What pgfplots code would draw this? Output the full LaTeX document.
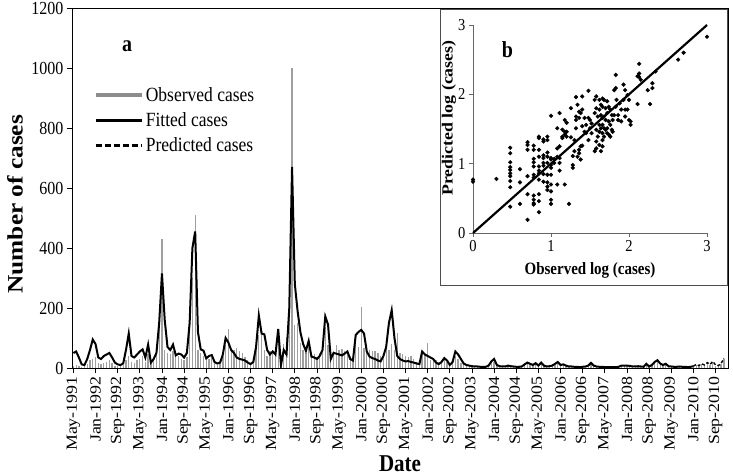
\documentclass[border=0pt]{standalone}
\usepackage{pgfplots}
\pgfplotsset{compat=1.18}
\usepackage{pgfplotstable}
\usepackage{graphicx}
\usepackage{fontspec}
\setmainfont{Liberation Serif}
\newcommand\vs[1]{\scalebox{1.15}[1]{#1}}% stretched along text direction (for rotated text)
\newcommand\hs[1]{\scalebox{1}[1.15]{#1}}% stretched vertically (for horizontal text)

\pgfplotstableread{
t obs fit
0 8 50
1 10 55
2 5 35
3 3 12
4 5 10
5 12 30
6 25 60
7 30 95
8 35 80
9 15 35
10 12 30
11 15 40
12 20 45
13 25 50
14 15 35
15 8 18
16 5 12
17 5 10
18 10 15
19 25 60
20 40 115
21 20 40
22 15 35
23 25 45
24 30 55
25 40 62
26 20 35
27 45 78
28 15 18
29 30 30
30 60 50
31 175 150
32 430 315
33 60 160
34 50 70
35 45 60
36 55 78
37 35 42
38 40 48
39 30 45
40 25 35
41 35 50
42 150 150
43 300 400
44 510 455
45 60 120
46 50 62
47 40 58
48 25 32
49 30 40
50 35 43
51 15 20
52 10 15
53 15 18
54 40 45
55 75 100
56 130 85
57 55 60
58 60 50
59 65 35
60 55 30
61 50 28
62 35 25
63 25 18
64 15 13
65 20 20
66 65 70
67 110 175
68 117 115
69 60 112
70 40 60
71 55 45
72 50 55
73 40 45
74 90 130
75 15 10
76 80 60
77 103 45
78 300 200
79 1000 670
80 143 280
81 150 190
82 83 120
83 60 80
84 50 57
85 70 90
86 40 38
87 45 35
88 35 30
89 50 40
90 60 60
91 137 172
92 77 145
93 40 30
94 55 50
95 77 48
96 60 45
97 62 42
98 55 48
99 45 55
100 40 30
101 35 25
102 80 110
103 70 120
104 203 127
105 65 115
106 55 55
107 60 38
108 58 33
109 55 30
110 50 25
111 40 22
112 45 40
113 70 70
114 60 150
115 80 193
116 60 100
117 117 40
118 50 30
119 45 25
120 40 22
121 35 23
122 40 20
123 30 18
124 20 15
125 25 13
126 45 55
127 45 45
128 83 40
129 25 35
130 30 30
131 25 18
132 20 13
133 25 20
134 35 33
135 20 25
136 15 10
137 25 20
138 40 55
139 30 45
140 15 30
141 12 15
142 10 10
143 8 8
144 5 6
145 5 5
146 4 5
147 3 4
148 3 4
149 3 4
150 10 8
151 25 22
152 20 30
153 8 10
154 4 6
155 3 5
156 2 5
157 5 8
158 3 6
159 2 5
160 2 4
161 3 4
162 4 5
163 10 12
164 15 18
165 12 14
166 8 10
167 14 16
168 6 8
169 15 18
170 6 8
171 3 5
172 4 6
173 6 8
174 10 14
175 18 20
176 8 10
177 10 12
178 5 8
179 3 5
180 3 5
181 2 4
182 2 4
183 2 3
184 3 4
185 4 5
186 6 8
187 15 17
188 5 8
189 3 5
190 2 4
191 2 4
192 2 3
193 1 3
194 2 3
195 2 3
196 2 3
197 3 4
198 6 8
199 5 8
200 6 8
201 4 7
202 3 5
203 3 5
204 4 6
205 3 5
206 2 4
207 12 14
208 3 5
209 8 10
210 18 20
211 22 26
212 12 15
213 8 10
214 12 14
215 4 6
216 3 5
217 2 4
218 2 4
219 3 5
220 2 4
221 2 4
222 2 3
223 3 4
224 5 6
225 10 nan
226 6 nan
227 12 nan
228 8 nan
229 15 nan
230 10 nan
231 20 nan
232 8 nan
233 6 nan
234 12 nan
235 30 nan
}\maindata

\pgfplotstableread{
t pred
224 6
225 12
226 8
227 14
228 10
229 18
230 12
231 22
232 10
233 8
234 15
235 32
}\preddata

\pgfplotstableread{
x y
0 0.77
0 0.74
0.30 0.78
0.477 1.23
0.477 1.15
0.477 1.02
0.477 0.95
0.477 0.91
0.477 0.86
0.477 0.82
0.477 0.75
0.477 0.66
0.477 0.38
0.602 0.92
0.602 0.73
0.602 0.42
0.699 1.31
0.699 1.27
0.699 1.20
0.699 0.82
0.699 0.56
0.699 0.19
0.778 1.26
0.778 1.20
0.778 1.07
0.778 1.02
0.778 0.96
0.778 0.84
0.778 0.80
0.778 0.54
0.778 0.48
0.778 0.43
0.778 0.41
0.845 1.39
0.845 1.37
0.845 1.20
0.845 1.10
0.845 0.96
0.845 0.90
0.845 0.86
0.845 0.77
0.845 0.56
0.845 0.46
0.845 0.30
0.903 1.35
0.903 1.32
0.903 1.12
0.903 1.08
0.903 1.01
0.903 0.97
0.903 0.85
0.903 0.74
0.954 1.39
0.954 1.34
0.954 1.16
0.954 1.10
0.954 1.01
0.954 0.84
0.954 0.73
0.954 0.67
0.954 0.62
1.0 1.69
1.0 1.08
1.0 1.06
1.0 0.98
1.0 0.94
1.0 0.84
1.0 0.70
1.0 0.60
1.0 0.48
1.0 0.42
1.04 1.07
1.04 1.01
1.08 1.51
1.08 1.22
1.08 1.10
1.08 0.70
1.11 1.73
1.11 1.25
1.11 1.08
1.11 1.01
1.11 0.90
1.146 1.49
1.146 1.39
1.146 1.37
1.176 1.63
1.176 1.46
1.176 1.42
1.176 0.70
1.20 1.59
1.20 1.46
1.20 1.39
1.23 0.42
1.255 1.80
1.255 1.38
1.28 1.11
1.28 0.98
1.28 0.94
1.30 1.34
1.30 1.18
1.32 1.96
1.32 1.68
1.32 1.63
1.32 1.51
1.34 1.85
1.34 1.10
1.36 1.75
1.36 1.66
1.36 1.20
1.36 1.15
1.38 1.73
1.38 1.25
1.38 1.06
1.40 1.97
1.40 1.78
1.40 1.54
1.40 1.26
1.43 1.66
1.43 1.46
1.45 1.56
1.45 1.44
1.48 2.05
1.48 1.66
1.48 1.34
1.50 1.63
1.50 1.51
1.52 1.58
1.52 1.44
1.56 1.92
1.56 1.73
1.56 1.18
1.58 1.97
1.58 1.80
1.58 1.49
1.58 1.32
1.58 1.22
1.60 1.68
1.60 1.39
1.62 1.92
1.62 1.78
1.62 1.56
1.62 1.46
1.62 1.27
1.64 1.85
1.64 1.70
1.64 1.51
1.64 1.18
1.66 1.94
1.66 1.82
1.66 1.66
1.66 1.56
1.66 1.44
1.66 1.34
1.66 1.25
1.68 1.92
1.68 1.68
1.68 1.51
1.68 1.39
1.70 1.80
1.70 1.63
1.70 1.49
1.72 1.90
1.72 1.73
1.72 1.51
1.72 1.44
1.74 1.82
1.74 1.61
1.74 1.42
1.76 1.78
1.76 1.56
1.76 1.39
1.78 1.70
1.78 1.49
1.79 1.63
1.79 1.46
1.81 2.06
1.81 1.70
1.83 2.28
1.83 2.09
1.83 1.82
1.84 1.92
1.86 1.70
1.86 1.63
1.88 1.87
1.90 1.78
1.90 1.61
1.93 2.14
1.93 1.92
1.95 2.06
1.95 1.78
1.95 1.68
1.98 1.99
1.98 1.78
2.00 1.92
2.00 1.63
2.02 1.61
2.02 1.56
2.11 2.26
2.11 1.86
2.13 2.44
2.13 2.30
2.13 2.25
2.15 2.21
2.24 2.06
2.27 1.86
2.30 2.16
2.30 2.09
2.34 2.33
2.63 2.50
2.70 2.60
3.0 2.83
}\scatterdata

\begin{document}
\begin{tikzpicture}
\path[use as bounding box] (0pt,0pt) rectangle (733pt,476pt);
\begin{axis}[
  at={(72pt,108pt)}, anchor=south west,
  scale only axis, width=656pt, height=360pt,
  xmin=-0.5, xmax=236.5, ymin=0, ymax=1200,
  ytick={0,200,...,1200},
  xtick={0,8,...,232},
  xticklabels={\vs{May-1991},\vs{Jan-1992},\vs{Sep-1992},\vs{May-1993},\vs{Jan-1994},\vs{Sep-1994},\vs{May-1995},\vs{Jan-1996},\vs{Sep-1996},\vs{May-1997},\vs{Jan-1998},\vs{Sep-1998},\vs{May-1999},\vs{Jan-2000},\vs{Sep-2000},\vs{May-2001},\vs{Jan-2002},\vs{Sep-2002},\vs{May-2003},\vs{Jan-2004},\vs{Sep-2004},\vs{May-2005},\vs{Jan-2006},\vs{Sep-2006},\vs{May-2007},\vs{Jan-2008},\vs{Sep-2008},\vs{May-2009},\vs{Jan-2010},\vs{Sep-2010}},
  xticklabel style={rotate=90, anchor=east, font=\fontsize{15.5}{17}\selectfont},
  yticklabel={\hs{\pgfmathprintnumber{\tick}}},
  yticklabel style={font=\fontsize{16}{18}\selectfont},
  /pgf/number format/assume math mode=true,
  /pgf/number format/set thousands separator={},
  tick align=outside, major tick length=5pt,
  xtick pos=left, ytick pos=left,
  axis line style={black, line width=0.8pt},
  tick style={black, line width=0.8pt},
  xlabel={\hs{Date}},
  ylabel={\vs{Number of cases}},
  xlabel style={at={(axis description cs:0.5,-0.265)}, anchor=center, font=\bfseries\fontsize{21}{24}\selectfont},
  ylabel style={at={(axis description cs:-0.087,0.455)}, anchor=center, rotate=0, font=\bfseries\fontsize{22}{26}\selectfont},
  legend style={draw=none, fill=none, at={(axis description cs:0.033,0.785)}, anchor=north west, font=\fontsize{17.5}{21}\selectfont, row sep=5.5pt, inner sep=0pt},
  legend cell align=left,
]
\addlegendimage{legend image code/.code={\draw[gray!90, line width=4pt] (0pt,0pt)--(46pt,0pt);}}
\addlegendentry{\hs{Observed cases}}
\addlegendimage{legend image code/.code={\draw[black, line width=3pt] (0pt,0pt)--(46pt,0pt);}}
\addlegendentry{\hs{Fitted cases}}
\addlegendimage{legend image code/.code={\draw[black, line width=3pt, dash pattern=on 6pt off 3pt] (0pt,0pt)--(46pt,0pt);}}
\addlegendentry{\hs{Predicted cases}}
\addplot[ycomb, color=gray!75, line width=1.3pt, forget plot] table[x=t, y=obs] {\maindata};
\addplot[black, line width=2pt, forget plot] table[x=t, y=fit] {\maindata};
\addplot[black, line width=1.4pt, dash pattern=on 3pt off 2pt, forget plot] table[x=t, y=pred] {\preddata};
\node[font=\bfseries\fontsize{20}{24}\selectfont] at (axis description cs:0.084,0.894) {\hs{a}};
\end{axis}
\draw[black!70, line width=0.7pt, fill=white] (440pt,467pt) rectangle (727pt,191pt);
\begin{axis}[
  at={(473pt,243pt)}, anchor=south west,
  scale only axis, width=234pt, height=208pt,
  xmin=0, xmax=3, ymin=0, ymax=3,
  xtick={0,1,2,3}, ytick={0,1,2,3},
  axis x line=bottom, axis y line=left,
  axis line style={-, black!60, line width=0.8pt},
  tick align=outside, major tick length=4pt,
  tick style={black!60, line width=0.8pt},
  xticklabel={\hs{\pgfmathprintnumber{\tick}}},
  yticklabel={\hs{\pgfmathprintnumber{\tick}}},
  ticklabel style={font=\fontsize{14.5}{16}\selectfont},
  /pgf/number format/assume math mode=true,
  xlabel={\hs{Observed log (cases)}},
  ylabel={\vs{Predicted log (cases)}},
  xlabel style={at={(axis description cs:0.5,-0.178)}, anchor=center, font=\bfseries\fontsize{15}{18}\selectfont},
  ylabel style={at={(axis description cs:-0.103,0.553)}, anchor=center, rotate=0, font=\bfseries\fontsize{15.5}{18}\selectfont},
  clip=false,
]
\addplot[only marks, mark=*, mark size=1.9pt, black] table[x=x, y=y] {\scatterdata};
\addplot[black, line width=2.2pt] coordinates {(0,0) (3,3)};
\node[font=\bfseries\fontsize{20}{24}\selectfont] at (axis description cs:0.147,0.88) {\hs{b}};
\end{axis}
\end{tikzpicture}
\end{document}
